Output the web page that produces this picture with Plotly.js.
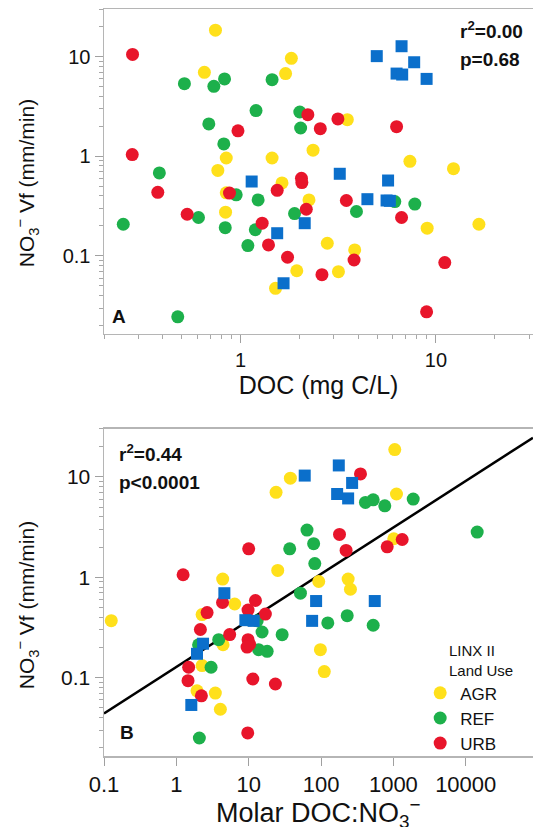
<!DOCTYPE html>
<html>
<head>
<meta charset="utf-8">
<script src="https://cdn.plot.ly/plotly-3.0.1.min.js"></script>
<style>html,body{margin:0;padding:0;background:#fff;}#chart{width:533px;height:827px;}</style>
</head>
<body>
<div id="chart"></div>
<script>
// ---------- Panel A: DOC (mg C/L) vs NO3- Vf (mm/min) ----------
const aAgrX = [0.744, 0.653, 1.70, 1.82, 3.52, 2.35, 0.845, 1.45, 7.36, 12.3, 0.765, 1.63, 0.845, 2.24, 0.838, 16.6, 9.02, 2.78, 3.84, 1.94, 3.17, 1.51];
const aAgrY = [18.4, 6.95, 6.75, 9.6, 2.33, 1.15, 0.96, 0.96, 0.89, 0.75, 0.72, 0.54, 0.43, 0.365, 0.275, 0.208, 0.19, 0.134, 0.115, 0.071, 0.0695, 0.0473];
const aRefX = [0.516, 0.730, 0.828, 1.45, 1.20, 2.01, 0.688, 2.03, 0.821, 0.384, 0.95, 1.23, 6.16, 7.8, 3.92, 0.609, 1.89, 0.251, 0.835, 1.19, 1.09, 0.477];
const aRefY = [5.35, 5.03, 5.97, 5.87, 2.87, 2.78, 2.11, 1.92, 1.33, 0.68, 0.41, 0.365, 0.351, 0.331, 0.279, 0.243, 0.266, 0.208, 0.192, 0.183, 0.127, 0.0245];
const aUrbX = [0.28, 2.21, 3.15, 0.97, 2.56, 6.29, 0.279, 2.05, 2.06, 1.54, 0.377, 0.878, 3.48, 2.17, 0.533, 6.67, 1.29, 1.39, 1.74, 3.81, 11.1, 2.61, 8.96];
const aUrbY = [10.5, 2.61, 2.37, 1.80, 1.89, 1.98, 1.04, 0.60, 0.545, 0.455, 0.435, 0.427, 0.36, 0.294, 0.262, 0.243, 0.213, 0.129, 0.097, 0.091, 0.0857, 0.0649, 0.0275];
const aSqX = [4.98, 6.67, 7.74, 6.29, 6.72, 8.96, 1.14, 3.22, 5.69, 4.46, 5.59, 5.81, 2.13, 1.54, 1.66];
const aSqY = [10.1, 12.7, 8.77, 6.75, 6.6, 5.97, 0.558, 0.667, 0.571, 0.371, 0.36, 0.357, 0.213, 0.169, 0.0532];

// ---------- Panel B: Molar DOC:NO3- vs NO3- Vf (mm/min) ----------
const bAgrX = [1045, 37.7, 23.9, 1104, 1013, 25.2, 4.37, 93, 237, 255, 6.4, 2.27, 0.126, 4.42, 98, 2.27, 111, 1.93, 3.46, 4.06];
const bAgrY = [18.7, 9.7, 7.02, 6.75, 2.42, 1.17, 0.96, 0.908, 0.96, 0.76, 0.542, 0.425, 0.37, 0.213, 0.19, 0.132, 0.115, 0.074, 0.0702, 0.0485];
const bRefX = [411, 526, 761, 1880, 14400, 64, 36.9, 79, 82, 51.9, 230, 124, 526, 13.1, 15.3, 29, 3.85, 2.03, 13.7, 18, 3.02, 2.08];
const bRefY = [5.57, 5.91, 5.15, 6.01, 2.82, 2.95, 1.92, 2.16, 1.37, 0.694, 0.415, 0.351, 0.333, 0.368, 0.285, 0.268, 0.239, 0.213, 0.19, 0.183, 0.127, 0.0251];
const bUrbX = [351, 180, 1324, 821, 10, 222, 1.24, 12.4, 4.35, 9.8, 2.66, 17, 2.15, 5.46, 9.8, 10.3, 9.5, 1.48, 1.45, 11.4, 23.4, 2.22, 9.7];
const bUrbY = [10.7, 2.67, 2.38, 2.01, 1.92, 1.85, 1.06, 0.587, 0.561, 0.471, 0.445, 0.43, 0.302, 0.269, 0.239, 0.215, 0.202, 0.127, 0.0933, 0.097, 0.0865, 0.066, 0.0282];
const bSqX = [176, 59.5, 269, 167, 237, 4.61, 85.5, 553, 9.0, 11.7, 75.3, 2.34, 1.93, 1.61];
const bSqY = [13, 10.3, 8.7, 6.75, 6.1, 0.694, 0.58, 0.58, 0.374, 0.368, 0.368, 0.218, 0.173, 0.0535];

// regression line (panel B) end points
const fitX = [0.1, 85000];
const fitY = [0.044, 24.5];

const groupNames = ['AGR', 'REF', 'URB'];
const tickValsB = [0.1, 1, 10, 100, 1000, 10000];
const tickTextB = ['0.1', '1', '10', '100', '1000', '10000'];
const tickValsA = [1, 10];
const tickTextA = ['1', '10'];
const tickValsY = [0.1, 1, 10];
const tickTextY = ['0.1', '1', '10'];

const COL = {AGR: '#FFE01B', REF: '#1DB04B', URB: '#E8152B', SQ: '#0B6FCB'};
const FONT = 'Liberation Sans, Arial, sans-serif';

function pts(x, y, name, col, xa, ya, legend, sym) {
  return {
    type: 'scatter', mode: 'markers', x: x, y: y, name: name,
    xaxis: xa, yaxis: ya, showlegend: legend, hoverinfo: 'x+y',
    marker: {color: col, size: sym === 'square' ? 12 : 13, symbol: sym || 'circle', line: {width: 0}}
  };
}

const traces = [
  pts(aAgrX, aAgrY, groupNames[0], COL.AGR, 'x', 'y', false),
  pts(aRefX, aRefY, groupNames[1], COL.REF, 'x', 'y', false),
  pts(aUrbX, aUrbY, groupNames[2], COL.URB, 'x', 'y', false),
  pts(aSqX, aSqY, 'other', COL.SQ, 'x', 'y', false, 'square'),
  {type: 'scatter', mode: 'lines', x: fitX, y: fitY, xaxis: 'x2', yaxis: 'y2', showlegend: false,
   line: {color: '#000', width: 2.5}, hoverinfo: 'skip'},
  pts(bAgrX, bAgrY, groupNames[0], COL.AGR, 'x2', 'y2', true),
  pts(bRefX, bRefY, groupNames[1], COL.REF, 'x2', 'y2', true),
  pts(bUrbX, bUrbY, groupNames[2], COL.URB, 'x2', 'y2', true),
  pts(bSqX, bSqY, 'other', COL.SQ, 'x2', 'y2', false, 'square')
];

const axisBase = {
  type: 'log', showgrid: false, zeroline: false, showline: true,
  linecolor: '#b5b5b5', linewidth: 1.5, ticks: 'outside', ticklen: 8, tickwidth: 1,
  tickcolor: '#a0a0a0', tickmode: 'array',
  tickfont: {family: FONT, size: 20, color: '#111'}
};
const minorLog = {ticks: 'outside', ticklen: 4, tickwidth: 1, tickcolor: '#a8a8a8', showgrid: false, dtick: 'D1'};

const yTitle = 'NO<sub>3</sub><sup>\u2212</sup> Vf (mm/min)';
const yTitleFont = {family: FONT, size: 21, color: '#111'};

const layout = {
  width: 533, height: 827,
  margin: {l: 104, r: 0, t: 9, b: 71},
  paper_bgcolor: '#fff', plot_bgcolor: '#fff',
  font: {family: FONT, color: '#111'},
  xaxis: Object.assign({}, axisBase, {
    domain: [0, 1], anchor: 'y', mirror: true,
    range: [Math.log10(0.2), Math.log10(31.4)],
    tickvals: tickValsA, ticktext: tickTextA, minor: minorLog,
    title: {text: 'DOC (mg C/L)', font: {family: FONT, size: 25, color: '#111'}, standoff: 4}
  }),
  yaxis: Object.assign({}, axisBase, {
    domain: [0.565, 1], anchor: 'x',
    range: [Math.log10(0.0165), Math.log10(30)],
    tickvals: tickValsY, ticktext: tickTextY, minor: minorLog
  }),
  xaxis2: Object.assign({}, axisBase, {
    domain: [0, 1], anchor: 'y2', mirror: true,
    range: [-1, 4.93],
    tickvals: tickValsB, ticktext: tickTextB,
    tickfont: {family: FONT, size: 22, color: '#111'}
  }),
  yaxis2: Object.assign({}, axisBase, {
    domain: [0, 0.4378], anchor: 'x2',
    range: [Math.log10(0.0166), Math.log10(30)],
    tickvals: tickValsY, ticktext: tickTextY, minor: minorLog,
    tickfont: {family: FONT, size: 21, color: '#111'}
  }),
  legend: {
    x: 0.737, y: 0.108, xanchor: 'left', yanchor: 'top', bgcolor: 'rgba(0,0,0,0)',
    font: {family: FONT, size: 17, color: '#111'}, itemwidth: 30, tracegroupgap: 0
  },
  annotations: [
    {xref: 'paper', yref: 'paper', x: -0.18, y: 0.7665, xanchor: 'center', yanchor: 'middle', showarrow: false,
     textangle: -90, text: yTitle, font: yTitleFont},
    {xref: 'paper', yref: 'paper', x: -0.18, y: 0.2015, xanchor: 'center', yanchor: 'middle', showarrow: false,
     textangle: -90, text: yTitle, font: yTitleFont},
    {xref: 'paper', yref: 'paper', x: 0.5, y: -0.0764, xanchor: 'center', yanchor: 'middle', showarrow: false,
     text: 'Molar DOC:NO<sub>3</sub><sup>\u2212</sup>', font: {family: FONT, size: 27, color: '#111'}},
    {xref: 'paper', yref: 'paper', x: 0.8, y: 0.1278, xanchor: 'left', yanchor: 'middle', showarrow: false,
     align: 'left', text: 'LINX II<br>Land Use', font: {family: FONT, size: 15, color: '#111'}},
    {xref: 'paper', yref: 'paper', x: 0.825, y: 0.972, xanchor: 'left', yanchor: 'middle', showarrow: false,
     align: 'left', text: '<b>r<sup>2</sup>=0.00</b>', font: {family: FONT, size: 19, color: '#111'}},
    {xref: 'paper', yref: 'paper', x: 0.825, y: 0.932, xanchor: 'left', yanchor: 'middle', showarrow: false,
     align: 'left', text: '<b>p=0.68</b>', font: {family: FONT, size: 19, color: '#111'}},
    {xref: 'paper', yref: 'paper', x: 0.013, y: 0.588, xanchor: 'left', yanchor: 'middle', showarrow: false,
     text: '<b>A</b>', font: {family: FONT, size: 19, color: '#111'}},
    {xref: 'paper', yref: 'paper', x: 0.03, y: 0.4056, xanchor: 'left', yanchor: 'middle', showarrow: false,
     align: 'left', text: '<b>r<sup>2</sup>=0.44</b>', font: {family: FONT, size: 19, color: '#111'}},
    {xref: 'paper', yref: 'paper', x: 0.03, y: 0.3668, xanchor: 'left', yanchor: 'middle', showarrow: false,
     align: 'left', text: '<b>p<0.0001</b>', font: {family: FONT, size: 19, color: '#111'}},
    {xref: 'paper', yref: 'paper', x: 0.033, y: 0.031, xanchor: 'left', yanchor: 'middle', showarrow: false,
     text: '<b>B</b>', font: {family: FONT, size: 19, color: '#111'}}
  ]
};

Plotly.newPlot('chart', traces, layout, {staticPlot: true, displayModeBar: false});
</script>
</body>
</html>
